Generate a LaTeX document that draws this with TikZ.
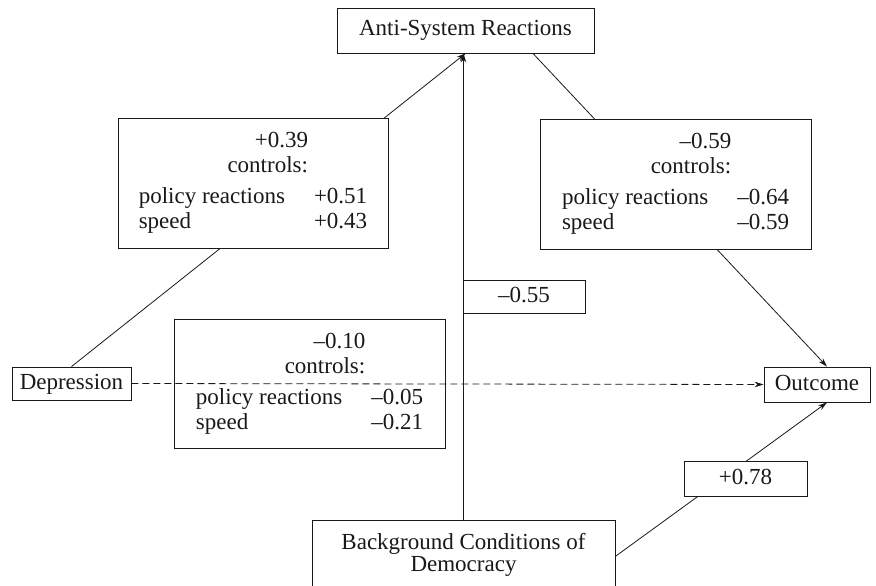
\documentclass[tikz,border=0pt]{standalone}
\usepackage{fontspec}
\setmainfont{Liberation Serif}
\usetikzlibrary{arrows.meta,calc,backgrounds}
\newcommand{\ctrltab}[3]{\begin{tabular}{@{}l@{\hspace{29pt}}r@{}}
\multicolumn{1}{@{}r}{#1}\\
\multicolumn{1}{@{}r}{controls:}\\[6pt]
policy reactions & #2\\
speed & #3
\end{tabular}}
\begin{document}
\begin{tikzpicture}[x=1pt,y=-1pt,
  box/.style={draw=black!90, line width=0.9pt, inner sep=0pt, fill=white, text=black!90,
    font=\fontsize{23}{25}\selectfont},
  onerow/.style={box, text height=16pt, text depth=5pt},
  link/.style={draw=black!90, line width=0.8pt},
  arr/.style={link, -{Stealth[length=9pt,width=5.5pt]}},
  dashlink/.style={arr, dash pattern=on 7pt off 4pt}]
\useasboundingbox (0,0) rectangle (876,586);
% nodes
\node[onerow, minimum width=257pt, minimum height=45pt] (anti) at (465.5,30.5) {Anti-System Reactions};
\node[box, minimum width=270pt, minimum height=130pt] (lbox) at (253,183)
  {\ctrltab{+0.39}{+0.51}{+0.43}};
\node[box, minimum width=271pt, minimum height=130pt] (rbox) at (675.5,184)
  {\ctrltab{\textendash0.59}{\textendash0.64}{\textendash0.59}};
\node[onerow, minimum width=119pt, minimum height=33pt] (dep) at (71.5,383.5) {Depression};
\node[box, fill=none, minimum width=271pt, minimum height=129pt] (mbox) at (309.5,383.5)
  {\ctrltab{\textendash0.10}{\textendash0.05}{\textendash0.21}};
\node[onerow, minimum width=106pt, minimum height=35pt] (out) at (817,384.5) {Outcome};
\node[onerow, minimum width=122pt, minimum height=33pt] (m55) at (524,296.5) {\textendash0.55};
\node[onerow, minimum width=123pt, minimum height=35pt] (p78) at (745.5,478.5) {+0.78};
\node[box, align=center, minimum width=303pt, minimum height=68pt,
  font=\fontsize{23}{22}\selectfont] (bg) at (463.5,554.8)
  {Background Conditions of\\Democracy};
% connectors
\begin{scope}[on background layer]
\fill[white] (0,0) rectangle (876,586);
\draw[arr] (dep.north) -- (anti.south);
\draw[arr] (bg.north) -- (bg.north |- anti.south);
\draw[arr] ([xshift=67.5pt]anti.south) -- ([xshift=10pt]out.north);
\draw[dashlink] (dep.east) -- (out.west);
\draw[arr] ($(bg.north east)+(0,36)$) -- ([xshift=10pt]out.south);
\end{scope}
\end{tikzpicture}
\end{document}
